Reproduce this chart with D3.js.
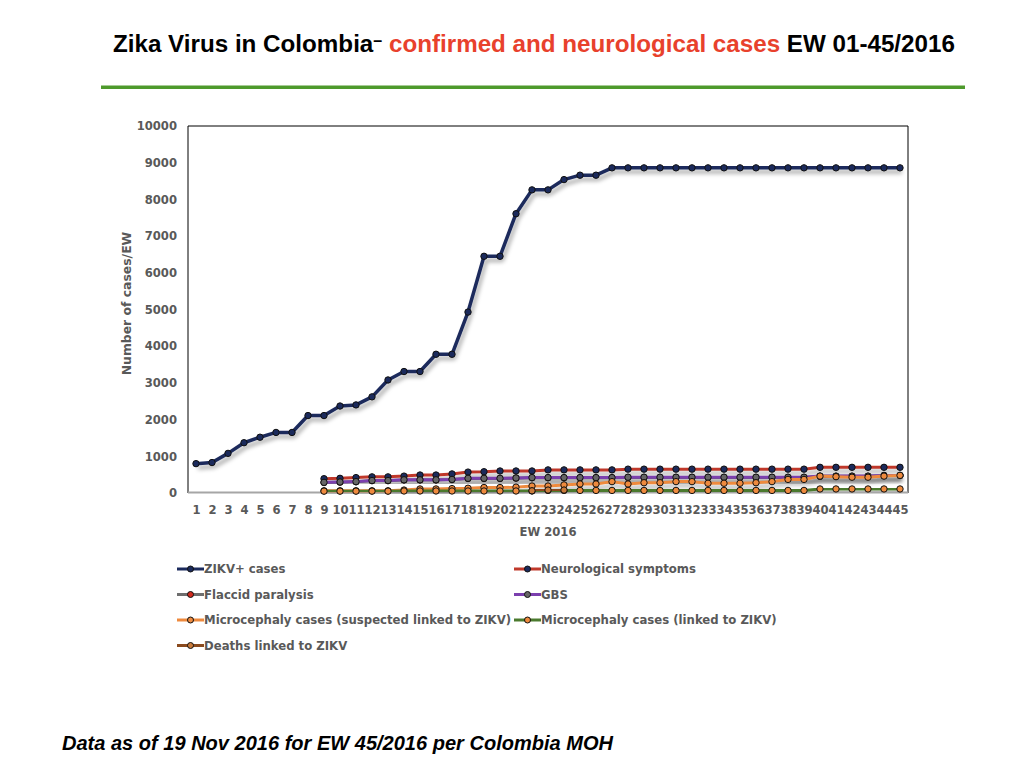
<!DOCTYPE html>
<html>
<head>
<meta charset="utf-8">
<script src="https://cdn.jsdelivr.net/npm/d3@7"></script>
<style>
  body { margin: 0; background: #fff; }
  svg { display: block; }
</style>
</head>
<body>
<div id="chart"></div>
<script>
// epidemiological weeks and series (cumulative cases)
const weeks = d3.range(1, 46);

const zikvCases = [800, 830, 1080, 1370, 1520, 1650, 1650, 2110, 2110, 2370,
  2400, 2620, 3080, 3310, 3310, 3780, 3780, 4930, 6450, 6450,
  7610, 8260, 8260, 8540, 8660, 8660, 8860, 8860, 8860, 8860,
  8860, 8860, 8860, 8860, 8860, 8860, 8860, 8860, 8860, 8860,
  8860, 8860, 8860, 8860, 8860];

const neuroSymptoms = [null, null, null, null, null, null, null, null, 390, 400,
  420, 440, 440, 460, 490, 490, 520, 570, 580, 600,
  600, 600, 630, 630, 630, 630, 630, 650, 650, 650,
  650, 650, 650, 650, 650, 650, 650, 650, 650, 700,
  700, 700, 700, 700, 700];

const flaccidParalysis = [null, null, null, null, null, null, null, null, 285, 295,
  305, 335, 335, 355, 355, 355, 365, 395, 395, 395,
  405, 415, 415, 415, 415, 415, 415, 425, 425, 425,
  425, 425, 425, 425, 425, 425, 425, 425, 425, 455,
  455, 455, 455, 475, 475];

const gbs = [null, null, null, null, null, null, null, null, 290, 300,
  310, 340, 340, 360, 360, 360, 370, 400, 400, 400,
  410, 420, 420, 420, 420, 420, 420, 430, 430, 430,
  430, 430, 430, 430, 430, 430, 430, 430, 430, 460,
  460, 460, 460, 480, 480];

const microSuspected = [null, null, null, null, null, null, null, null, 60, 60,
  60, 60, 60, 80, 110, 110, 120, 130, 150, 150,
  160, 190, 190, 220, 245, 245, 310, 245, 280, 280,
  310, 310, 265, 265, 265, 280, 310, 370, 370, 460,
  445, 430, 430, 460, 480];

const microLinked = [null, null, null, null, null, null, null, null, 50, 50,
  50, 50, 50, 55, 55, 55, 55, 55, 55, 55,
  55, 55, 70, 70, 70, 70, 70, 70, 70, 70,
  70, 70, 70, 70, 70, 70, 70, 70, 70, 110,
  110, 110, 110, 110, 110];

const deaths = [null, null, null, null, null, null, null, null, null, null,
  null, null, null, null, null, null, null, null, null, null,
  null, 60, 80, 80, null, null, null, null, null, null,
  null, null, null, null, null, null, null, null, null, null,
  null, null, null, null, null];

const yTicks = [0, 1000, 2000, 3000, 4000, 5000, 6000, 7000, 8000, 9000, 10000];

const series = [
  {name: "ZIKV+ cases", values: zikvCases, line: "#1b2a5c", dot: "#1b2a5c", w: 3.5},
  {name: "Neurological symptoms", values: neuroSymptoms, line: "#c0392b", dot: "#1b2a5c", w: 3},
  {name: "Flaccid paralysis", values: flaccidParalysis, line: "#6e6e6e", dot: "#d22a1e", w: 3},
  {name: "GBS", values: gbs, line: "#7b3fae", dot: "#666666", w: 3},
  {name: "Microcephaly cases (suspected linked to ZIKV)", values: microSuspected, line: "#ee8a3e", dot: "#ee8a3e", w: 3},
  {name: "Microcephaly cases (linked to ZIKV)", values: microLinked, line: "#4b7a2e", dot: "#ee8a3e", w: 3},
  {name: "Deaths linked to ZIKV", values: deaths, line: "#8a4a1e", dot: "#c97a3a", w: 3}
];

const W = 1024, H = 768;
const plot = {left: 188, right: 908, top: 126, bottom: 493};
const labelFont = "DejaVu Sans, Verdana, sans-serif";
const grey = "#595959";

const svg = d3.select("#chart").append("svg")
  .attr("width", W)
  .attr("height", H)
  .style("font-family", "Liberation Sans, Arial, sans-serif");

// soft shadow under the lines, like the original slide
const defs = svg.append("defs");
defs.append("filter")
    .attr("id", "shadow")
    .attr("x", "-5%").attr("y", "-20%")
    .attr("width", "110%").attr("height", "140%")
  .append("feDropShadow")
    .attr("dx", 2).attr("dy", 4)
    .attr("stdDeviation", 2)
    .attr("flood-color", "#000")
    .attr("flood-opacity", 0.35);

// title
const title = svg.append("text")
  .attr("x", 113)
  .attr("y", 52)
  .attr("font-weight", "bold")
  .attr("font-size", 24.2);
title.append("tspan").attr("fill", "#000").text("Zika Virus in Colombia");
title.append("tspan").attr("fill", "#000").attr("dy", -6).attr("font-size", 16).text("–");
title.append("tspan").attr("fill", "#e8412c").attr("dy", 6).text("  confirmed and neurological cases");
title.append("tspan").attr("fill", "#000").text(" EW 01-45/2016");

svg.append("rect")
  .attr("x", 101).attr("y", 85.5)
  .attr("width", 864).attr("height", 3.5)
  .attr("fill", "#4e9a2c");

const x = d3.scalePoint()
  .domain(weeks)
  .range([plot.left, plot.right])
  .padding(0.5);

const y = d3.scaleLinear()
  .domain([0, 10000])
  .range([plot.bottom, plot.top]);

// plot frame
svg.append("path")
  .attr("d", `M${plot.left},${plot.bottom}V${plot.top}H${plot.right}V${plot.bottom}`)
  .attr("fill", "none")
  .attr("stroke", "#000")
  .attr("stroke-width", 1);

svg.append("line")
  .attr("x1", plot.left).attr("x2", plot.right)
  .attr("y1", plot.bottom - 0.5).attr("y2", plot.bottom - 0.5)
  .attr("stroke", "#a6a6a6")
  .attr("stroke-width", 2);

// axes
const yAxis = svg.append("g")
  .attr("transform", `translate(${plot.left},0)`)
  .call(d3.axisLeft(y).tickValues(yTicks).tickSize(0).tickPadding(11).tickFormat(d3.format("d")));
yAxis.select(".domain").remove();
yAxis.selectAll("text")
  .attr("font-family", labelFont)
  .attr("font-size", 11.6)
  .attr("font-weight", "bold")
  .attr("fill", grey);

const xAxis = svg.append("g")
  .attr("transform", `translate(0,${plot.bottom})`)
  .call(d3.axisBottom(x).tickSize(0).tickPadding(13));
xAxis.select(".domain").remove();
xAxis.selectAll("text")
  .attr("font-family", labelFont)
  .attr("font-size", 11.6)
  .attr("font-weight", "bold")
  .attr("fill", grey);

svg.append("text")
  .attr("x", 548).attr("y", 536)
  .attr("text-anchor", "middle")
  .attr("font-family", labelFont)
  .attr("font-size", 11.6)
  .attr("font-weight", "bold")
  .attr("fill", grey)
  .text("EW 2016");

svg.append("text")
  .attr("transform", `translate(131,${(plot.top + plot.bottom) / 2 - 6}) rotate(-90)`)
  .attr("text-anchor", "middle")
  .attr("font-family", labelFont)
  .attr("font-size", 12.4)
  .attr("font-weight", "bold")
  .attr("fill", grey)
  .text("Number of cases/EW");

// lines
const line = d3.line()
  .defined(d => d.v != null)
  .x(d => x(d.week))
  .y(d => y(d.v));

const groups = svg.append("g").selectAll("g")
  .data(series)
  .join("g");

groups.append("path")
  .attr("d", s => line(weeks.map((w, i) => ({week: w, v: s.values[i]}))))
  .attr("fill", "none")
  .attr("stroke", s => s.line)
  .attr("stroke-width", s => s.w)
  .attr("stroke-linejoin", "round")
  .attr("filter", "url(#shadow)");

groups.selectAll("circle")
  .data(s => weeks.map((w, i) => ({week: w, v: s.values[i], dot: s.dot})).filter(d => d.v != null))
  .join("circle")
    .attr("cx", d => x(d.week))
    .attr("cy", d => y(d.v))
    .attr("r", 3.2)
    .attr("fill", d => d.dot)
    .attr("stroke", "#111")
    .attr("stroke-width", 1);

// legend, two columns
const legend = svg.append("g").selectAll("g")
  .data(series)
  .join("g")
    .attr("transform", (d, i) => `translate(${i % 2 === 0 ? 177 : 514},${569 + Math.floor(i / 2) * 25.5})`);

legend.append("line")
  .attr("x1", 0).attr("x2", 27)
  .attr("stroke", d => d.line)
  .attr("stroke-width", 3);

legend.append("circle")
  .attr("cx", 13.5)
  .attr("r", 3)
  .attr("fill", d => d.dot)
  .attr("stroke", "#111")
  .attr("stroke-width", 1);

legend.append("text")
  .attr("x", 27)
  .attr("dy", "0.35em")
  .attr("font-family", labelFont)
  .attr("font-size", 11.7)
  .attr("font-weight", "bold")
  .attr("fill", grey)
  .text(d => d.name);

// footnote
svg.append("text")
  .attr("x", 62).attr("y", 750)
  .attr("font-size", 19.3)
  .attr("font-weight", "bold")
  .attr("font-style", "italic")
  .attr("fill", "#000")
  .attr("textLength", 551)
  .attr("lengthAdjust", "spacingAndGlyphs")
  .text("Data as of 19 Nov 2016 for EW 45/2016 per Colombia MOH");
</script>
</body>
</html>
